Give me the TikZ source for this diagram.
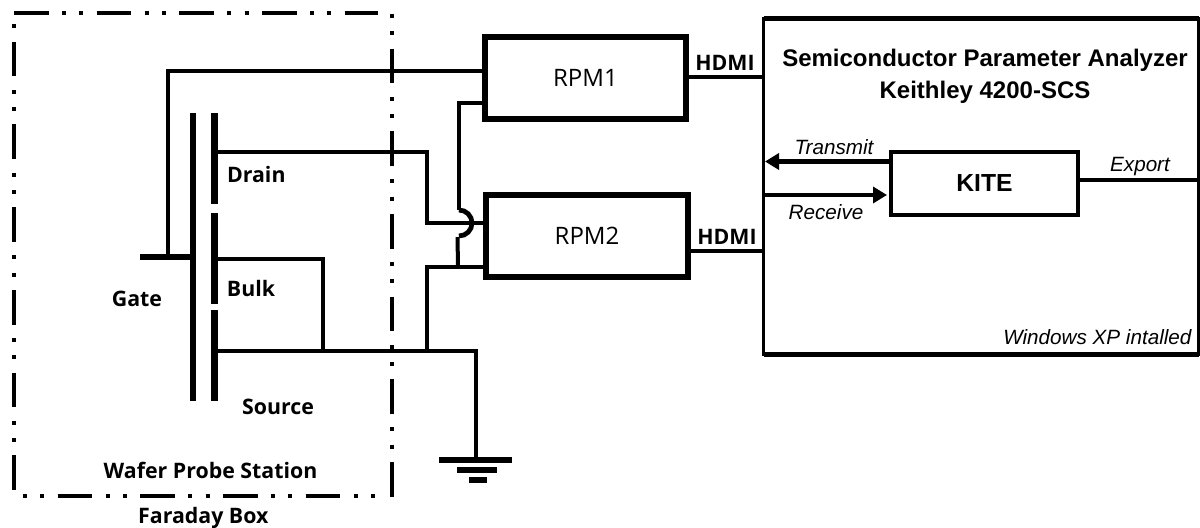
\documentclass[tikz,border=0pt]{standalone}
\usepackage{fontspec}
\setmainfont{Open Sans}
\newfontfamily\arialfont{Liberation Sans}
\usetikzlibrary{arrows.meta,calc}

\tikzset{every picture/.style={line width=0.75pt}}
\tikzset{
  rpmbox/.style={draw,line width=4.5pt,outer sep=0pt,minimum width=151pt,minimum height=61.5pt,font=\fontsize{18}{22}\selectfont},
  wire/.style={line width=3pt},
  thinwire/.style={line width=2.6pt},
  plate/.style={line width=5pt},
  bar/.style={line width=4.5pt},
  frameside/.style={line width=3pt,dash pattern=on 26pt off 10pt on 3pt off 10pt on 3pt off 10pt},
  label/.style={inner sep=0pt,font=\fontsize{16}{19}\selectfont\bfseries},
  note/.style={inner sep=0pt,font=\arialfont\fontsize{15.5}{18}\selectfont\itshape},
  head/.style={inner sep=0pt,align=center,font=\arialfont\fontsize{18}{24}\selectfont\bfseries},
  signal/.style={line width=3.5pt,-{Triangle[length=10.5pt,width=12pt]}}
}

\begin{document}
\begin{tikzpicture}[x=0.75pt,y=0.75pt,yscale=-1,xscale=1]
\useasboundingbox (0,0) rectangle (1200,528);

%Faraday box
\draw [frameside] (14,12.8) -- (378,12.8) ;
\draw [frameside,dash phase=36pt] (392,14) -- (392,497) ;
\draw [frameside,dash phase=36pt] (23,495.6) -- (378,495.6) ;
\draw [frameside,dash phase=49pt] (13.5,24.5) -- (13.5,491.6) ;

%Blocks
\node [rpmbox] (rpmone) at (585.5,78) {RPM1};
\node [rpmbox] (rpmtwo) at (587,236) {RPM2};
\node [draw,line width=2.4pt,outer sep=0pt,minimum width=326.25pt,minimum height=252pt] (analyzer) at (981,186.5) {};
\node [draw,line width=3pt,outer sep=0pt,minimum width=140.25pt,minimum height=47.25pt,font=\arialfont\fontsize{18.5}{22}\selectfont\bfseries] (kite) at (984.5,183.5) {KITE};
\draw [line width=3.75pt] (analyzer.north west) -- (analyzer.north east) ;
\draw [line width=3.75pt] (analyzer.south west) -- (analyzer.south east) ;

%Transistor
\coordinate (gatestub) at (140,257);
\coordinate (gatefoot) at (191,257);
\coordinate (gatetap) at (168,257);
\coordinate (gatetop) at (168,70.7);
\coordinate (drainend) at (215,152);
\coordinate (drainbend) at (427,152);
\coordinate (drainlow) at (427,223);
\coordinate (bulkend) at (215,259);
\coordinate (bulkbend) at (323,259);
\coordinate (bulkfoot) at (323,350.5);
\coordinate (sourceend) at (215,350.5);
\coordinate (sourcebend) at (476,350.5);
\coordinate (sourcetap) at (427,350.5);
\coordinate (sourceup) at (427,266.5);
\coordinate (gnd) at (476,460);
\coordinate (senseone) at (459,103);
\coordinate (hopin) at (459,210);
\coordinate (hopout) at (457.5,237);
\coordinate (hopfoot) at (458,266.5);

\draw [plate] (193,112.8) -- (193,401) ;
\draw [plate] (214.5,112.8) -- (214.5,204) ;
\draw [plate] (214.5,213) -- (214.5,304) ;
\draw [plate] (214.5,310) -- (214.5,401) ;
\draw [bar] (gatestub) -- (gatefoot) ;

%Wires
\draw [wire] (gatetap) -- (gatetop) -- (gatetop -| rpmone.west) ;
\draw [wire] (drainend) -- (drainbend) -- (drainlow) -- (drainlow -| rpmtwo.west) ;
\draw [wire] (bulkend) -- (bulkbend) -- (bulkfoot) ;
\draw [wire] (sourceend) -- (sourcebend) -- (gnd) ;
\draw [wire] (sourcetap) -- (sourceup) -- (sourceup -| rpmtwo.west) ;
\draw [wire] (senseone -| rpmone.west) -- (senseone) -- (hopin) ;
\draw [line width=3.6pt] (hopin) arc (-90:90:13) ;
\draw [wire] (hopout) -- (hopfoot) ;
\draw [thinwire] (rpmone.east |- 0,77) -- (analyzer.west |- 0,77) ;
\draw [thinwire] (rpmtwo.east |- 0,251) -- (analyzer.west |- 0,251) ;

%Ground
\coordinate (gndwest) at (439,460);
\coordinate (gndeast) at (512,460);
\coordinate (gndmidw) at (457,470);
\coordinate (gndmide) at (497,470);
\coordinate (gndlowb) at (469,479.5);
\coordinate (gndlowe) at (487,479.5);
\draw [bar] (gndwest) -- (gndeast) ;
\draw [bar] (gndmidw) -- (gndmide) ;
\draw [bar] (gndlowb) -- (gndlowe) ;

%Analyzer arrows
\coordinate (txend) at (765,161.5);
\coordinate (rxstart) at (764,195);
\coordinate (rxend) at (887,195);
\coordinate (exportstart) at (1079,180);
\draw [signal] (kite.west |- txend) -- (txend) ;
\draw [signal] (rxstart) -- (rxend) ;
\draw [signal,-] (exportstart) -- (exportstart -| analyzer.east) ;

% Text Nodes
\node [label] (drainlabel) at (256.3,174) {Drain};
\node [label] (bulklabel) at (251,288.5) {Bulk};
\node [label] (gatelabel) at (137,299) {Gate};
\node [label] (sourcelabel) at (278,407) {Source};
\node [label] (waferlabel) at (210.5,470) {Wafer Probe Station};
\node [label] (faradaylabel) at (203.3,518) {Faraday Box};
\node [label] (hdmione) at (725,62.7) {HDMI};
\node [label] (hdmitwo) at (727,237) {HDMI};
\node [head] (analyzerlabel) at (985,76) {Semiconductor Parameter Analyzer\\Keithley 4200-SCS};
\node [note] (txlabel) at (834,147) {Transmit};
\node [note] (rxlabel) at (826,212) {Receive};
\node [note] (exportlabel) at (1140,167) {Export};
\node [note,anchor=east] (oslabel) at (1192,337) {Windows XP intalled};

\end{tikzpicture}
\end{document}
